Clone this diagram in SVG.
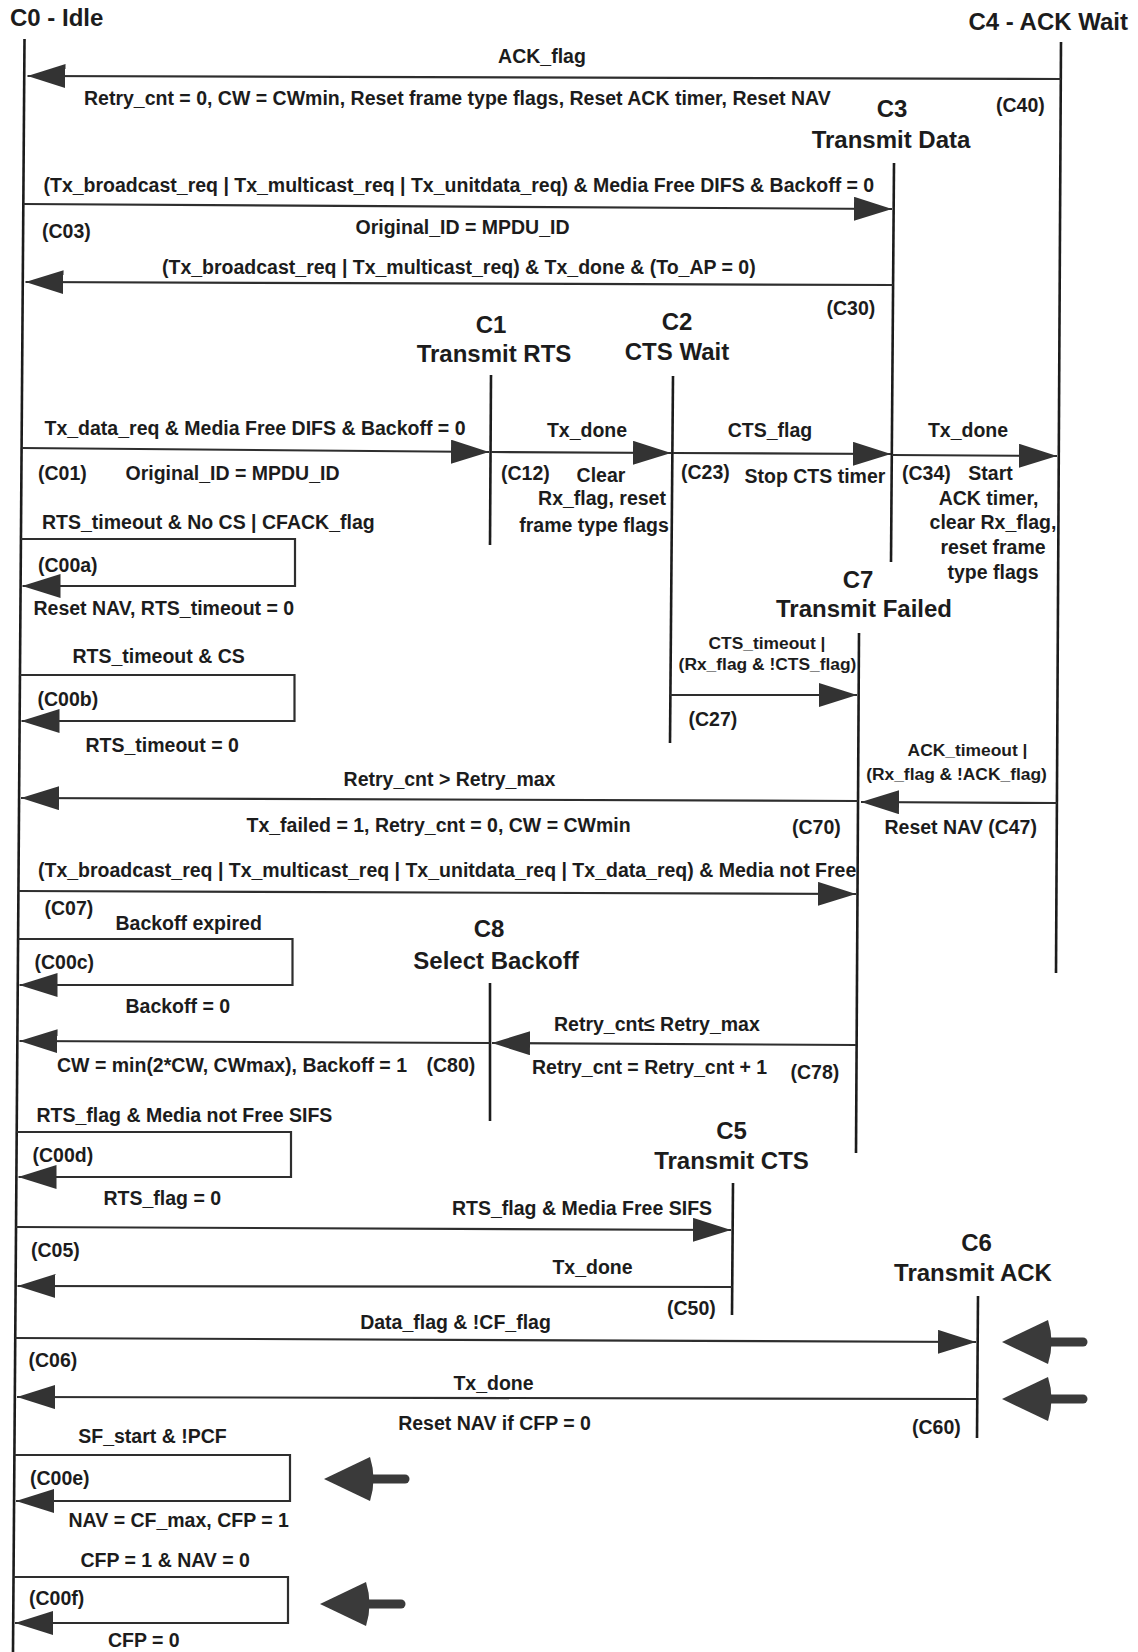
<svg xmlns="http://www.w3.org/2000/svg" width="1138" height="1652" viewBox="0 0 1138 1652">
<style>
text { font-family: "Liberation Sans", Arial, sans-serif; font-weight: bold; fill: #1c1c1c; }
.h { font-size: 24px; }
.l { font-size: 19.5px; }
.s { font-size: 17.4px; }
.m { text-anchor: middle; }
.e { text-anchor: end; }
.life { stroke: #1c1c1c; stroke-width: 2.6; fill: none; }
.conn { stroke: #2e2e2e; stroke-width: 2.2; fill: none; marker-end: url(#ah); }
.big { fill: #3a3a3a; }
.shaft { stroke: #3a3a3a; stroke-width: 9; stroke-linecap: round; }
</style>
<defs>
<marker id="ah" markerUnits="userSpaceOnUse" markerWidth="38" markerHeight="24" refX="38" refY="12" orient="auto">
<path d="M0,0 L38,12 L0,24 Z" fill="#333"/>
</marker>
</defs>
<rect width="1138" height="1652" fill="#fff"/>

<g id="C0">
<text class="h" x="10" y="26">C0 - Idle</text>
<line class="life" x1="24.5" y1="39" x2="13" y2="1652"/>
</g>
<g id="C4">
<text class="h e" x="1128" y="29.5">C4 - ACK Wait</text>
<line class="life" x1="1061" y1="42" x2="1056" y2="973"/>
</g>
<g id="C3">
<text class="h m" x="892" y="116.5">C3</text>
<text class="h m" x="891" y="147.5">Transmit Data</text>
<line class="life" x1="894" y1="163" x2="891" y2="562"/>
</g>
<g id="C1">
<text class="h m" x="491" y="333">C1</text>
<text class="h m" x="494" y="361.5">Transmit RTS</text>
<line class="life" x1="491" y1="375" x2="490" y2="545"/>
</g>
<g id="C2">
<text class="h m" x="677" y="329.5">C2</text>
<text class="h m" x="677" y="360">CTS Wait</text>
<line class="life" x1="673" y1="376" x2="670" y2="743"/>
</g>
<g id="C7">
<text class="h m" x="858" y="587.5">C7</text>
<text class="h m" x="864" y="617">Transmit Failed</text>
<line class="life" x1="859" y1="633" x2="856" y2="1153"/>
</g>
<g id="C8">
<text class="h m" x="489" y="937">C8</text>
<text class="h m" x="496" y="968.5">Select Backoff</text>
<line class="life" x1="490" y1="983" x2="490" y2="1121"/>
</g>
<g id="C5">
<text class="h m" x="731.5" y="1138.5">C5</text>
<text class="h m" x="731.5" y="1168.5">Transmit CTS</text>
<line class="life" x1="733" y1="1183" x2="732" y2="1315"/>
</g>
<g id="C6">
<text class="h m" x="976.5" y="1251">C6</text>
<text class="h m" x="973" y="1281">Transmit ACK</text>
<line class="life" x1="978" y1="1296" x2="977" y2="1438"/>
</g>

<g id="connectors">
<g id="c40">
<path class="conn" d="M1061,79 L27.5,76"/>
<text class="l m" x="542" y="62.5">ACK_flag</text>
<text class="l" x="84" y="105">Retry_cnt = 0, CW = CWmin, Reset frame type flags, Reset ACK timer, Reset NAV</text>
<text class="l" x="996" y="111.5">(C40)</text>
</g>
<g id="c03">
<path class="conn" d="M23.3,204 L892,209"/>
<text class="l" x="43.5" y="191.5">(Tx_broadcast_req | Tx_multicast_req | Tx_unitdata_req) &amp; Media Free DIFS &amp; Backoff = 0</text>
<text class="l" x="42" y="237.5">(C03)</text>
<text class="l" x="355.5" y="233.5">Original_ID = MPDU_ID</text>
</g>
<g id="c30">
<path class="conn" d="M893,285 L25.5,282"/>
<text class="l" x="162" y="273.5">(Tx_broadcast_req | Tx_multicast_req) &amp; Tx_done &amp; (To_AP = 0)</text>
<text class="l" x="826.5" y="315">(C30)</text>
</g>
<g id="c01">
<path class="conn" d="M21.6,448 L489,452"/>
<text class="l" x="44.5" y="435">Tx_data_req &amp; Media Free DIFS &amp; Backoff = 0</text>
<text class="l" x="38" y="480">(C01)</text>
<text class="l" x="125.5" y="480">Original_ID = MPDU_ID</text>
</g>
<g id="c12">
<path class="conn" d="M491,452 L671,453"/>
<text class="l m" x="587" y="436.5">Tx_done</text>
<text class="l" x="501" y="480">(C12)</text>
<text class="l m" x="601" y="481.5">Clear</text>
<text class="l m" x="602" y="505">Rx_flag, reset</text>
<text class="l m" x="594" y="531.5">frame type flags</text>
</g>
<g id="c23">
<path class="conn" d="M673,453 L891,454"/>
<text class="l m" x="770" y="436.5">CTS_flag</text>
<text class="l" x="681" y="478.5">(C23)</text>
<text class="l" x="744.5" y="482.5">Stop CTS timer</text>
</g>
<g id="c34">
<path class="conn" d="M892,455 L1057,456"/>
<text class="l m" x="968" y="436.5">Tx_done</text>
<text class="l" x="902" y="479.5">(C34)</text>
<text class="l m" x="990.5" y="480">Start</text>
<text class="l m" x="988.5" y="505">ACK timer,</text>
<text class="l m" x="993" y="528.5">clear Rx_flag,</text>
<text class="l m" x="993" y="553.5">reset frame</text>
<text class="l m" x="993" y="578.5">type flags</text>
</g>
<g id="c00a">
<path class="conn" d="M20.9,539 H295 V586 H22.5"/>
<text class="l" x="42" y="528.5">RTS_timeout &amp; No CS | CFACK_flag</text>
<text class="l" x="38" y="571.5">(C00a)</text>
<text class="l" x="33.5" y="615">Reset NAV, RTS_timeout = 0</text>
</g>
<g id="c00b">
<path class="conn" d="M20,675 H294.5 V721 H21.5"/>
<text class="l" x="72.5" y="662.5">RTS_timeout &amp; CS</text>
<text class="l" x="37.5" y="706">(C00b)</text>
<text class="l" x="85.5" y="751.5">RTS_timeout = 0</text>
</g>
<g id="c27">
<path class="conn" d="M670,695 L857,695"/>
<text class="s m" x="767" y="648.5">CTS_timeout |</text>
<text class="s m" x="767.5" y="669.5">(Rx_flag &amp; !CTS_flag)</text>
<text class="l" x="688.5" y="726">(C27)</text>
</g>
<g id="c70">
<path class="conn" d="M858,801 L21,798"/>
<text class="l m" x="449.5" y="786">Retry_cnt &gt; Retry_max</text>
<text class="l" x="246.5" y="831.5">Tx_failed = 1, Retry_cnt = 0, CW = CWmin</text>
<text class="l" x="792" y="833.5">(C70)</text>
</g>
<g id="c47">
<path class="conn" d="M1057,803 L861,802"/>
<text class="s m" x="967.5" y="755.5">ACK_timeout |</text>
<text class="s m" x="956.5" y="779.5">(Rx_flag &amp; !ACK_flag)</text>
<text class="l" x="884.5" y="833.5">Reset NAV (C47)</text>
</g>
<g id="c07">
<path class="conn" d="M18.4,891 L856,894"/>
<text class="l" x="38" y="876.5">(Tx_broadcast_req | Tx_multicast_req | Tx_unitdata_req | Tx_data_req) &amp; Media not Free</text>
<text class="l" x="44.5" y="915">(C07)</text>
</g>
<g id="c00c">
<path class="conn" d="M18.1,939 H292.5 V985 H19.5"/>
<text class="l" x="115.5" y="929.5">Backoff expired</text>
<text class="l" x="34.5" y="968.5">(C00c)</text>
<text class="l" x="125.5" y="1012.5">Backoff = 0</text>
</g>
<g id="c78">
<path class="conn" d="M856,1045 L492,1043"/>
<text class="l" x="554" y="1031">Retry_cnt≤ Retry_max</text>
<text class="l" x="532" y="1073.5">Retry_cnt = Retry_cnt + 1</text>
<text class="l" x="790.5" y="1078.5">(C78)</text>
</g>
<g id="c80">
<path class="conn" d="M490,1043 L19.5,1041"/>
<text class="l" x="57" y="1071.5">CW = min(2*CW, CWmax), Backoff = 1</text>
<text class="l" x="426.5" y="1071.5">(C80)</text>
</g>
<g id="c00d">
<path class="conn" d="M16.7,1132 H291 V1177 H18.5"/>
<text class="l" x="36.5" y="1121.5">RTS_flag &amp; Media not Free SIFS</text>
<text class="l" x="32.5" y="1161.5">(C00d)</text>
<text class="l" x="103.5" y="1205">RTS_flag = 0</text>
</g>
<g id="c05">
<path class="conn" d="M16,1227 L731,1230"/>
<text class="l" x="452" y="1215">RTS_flag &amp; Media Free SIFS</text>
<text class="l" x="31" y="1256.5">(C05)</text>
</g>
<g id="c50">
<path class="conn" d="M732,1287 L17.5,1286"/>
<text class="l m" x="592.5" y="1273.5">Tx_done</text>
<text class="l" x="667" y="1315">(C50)</text>
</g>
<g id="c06">
<path class="conn" d="M15.2,1338 L976,1342"/>
<text class="l m" x="455.5" y="1328.5">Data_flag &amp; !CF_flag</text>
<text class="l" x="28.5" y="1366.5">(C06)</text>
</g>
<g id="c60">
<path class="conn" d="M977,1399 L17,1397"/>
<text class="l m" x="493.5" y="1390">Tx_done</text>
<text class="l m" x="494.5" y="1430">Reset NAV if CFP = 0</text>
<text class="l" x="912" y="1433.5">(C60)</text>
</g>
<g id="c00e">
<path class="conn" d="M14.4,1455 H290 V1501 H16"/>
<text class="l m" x="152.5" y="1442.5">SF_start &amp; !PCF</text>
<text class="l" x="30" y="1484.5">(C00e)</text>
<text class="l" x="68.5" y="1526.5">NAV = CF_max, CFP = 1</text>
</g>
<g id="c00f">
<path class="conn" d="M13.5,1577 H288 V1623 H15"/>
<text class="l" x="80.5" y="1566.5">CFP = 1 &amp; NAV = 0</text>
<text class="l" x="29" y="1605">(C00f)</text>
<text class="l" x="108" y="1646.5">CFP = 0</text>
</g>
</g>

<g id="ext-arrows">
<g id="ext1">
<line class="shaft" x1="1046" y1="1342" x2="1083" y2="1342"/>
<path class="big" d="M1002,1342 L1048,1320 Q1055,1342 1048,1364 Z"/>
</g>
<g id="ext2">
<line class="shaft" x1="1046" y1="1399" x2="1083" y2="1399"/>
<path class="big" d="M1002,1399 L1048,1377 Q1055,1399 1048,1421 Z"/>
</g>
<g id="ext3">
<line class="shaft" x1="368" y1="1479" x2="405" y2="1479"/>
<path class="big" d="M324,1479 L370,1457 Q377,1479 370,1501 Z"/>
</g>
<g id="ext4">
<line class="shaft" x1="364" y1="1604" x2="401" y2="1604"/>
<path class="big" d="M320,1604 L366,1582 Q373,1604 366,1626 Z"/>
</g>
</g>
</svg>
